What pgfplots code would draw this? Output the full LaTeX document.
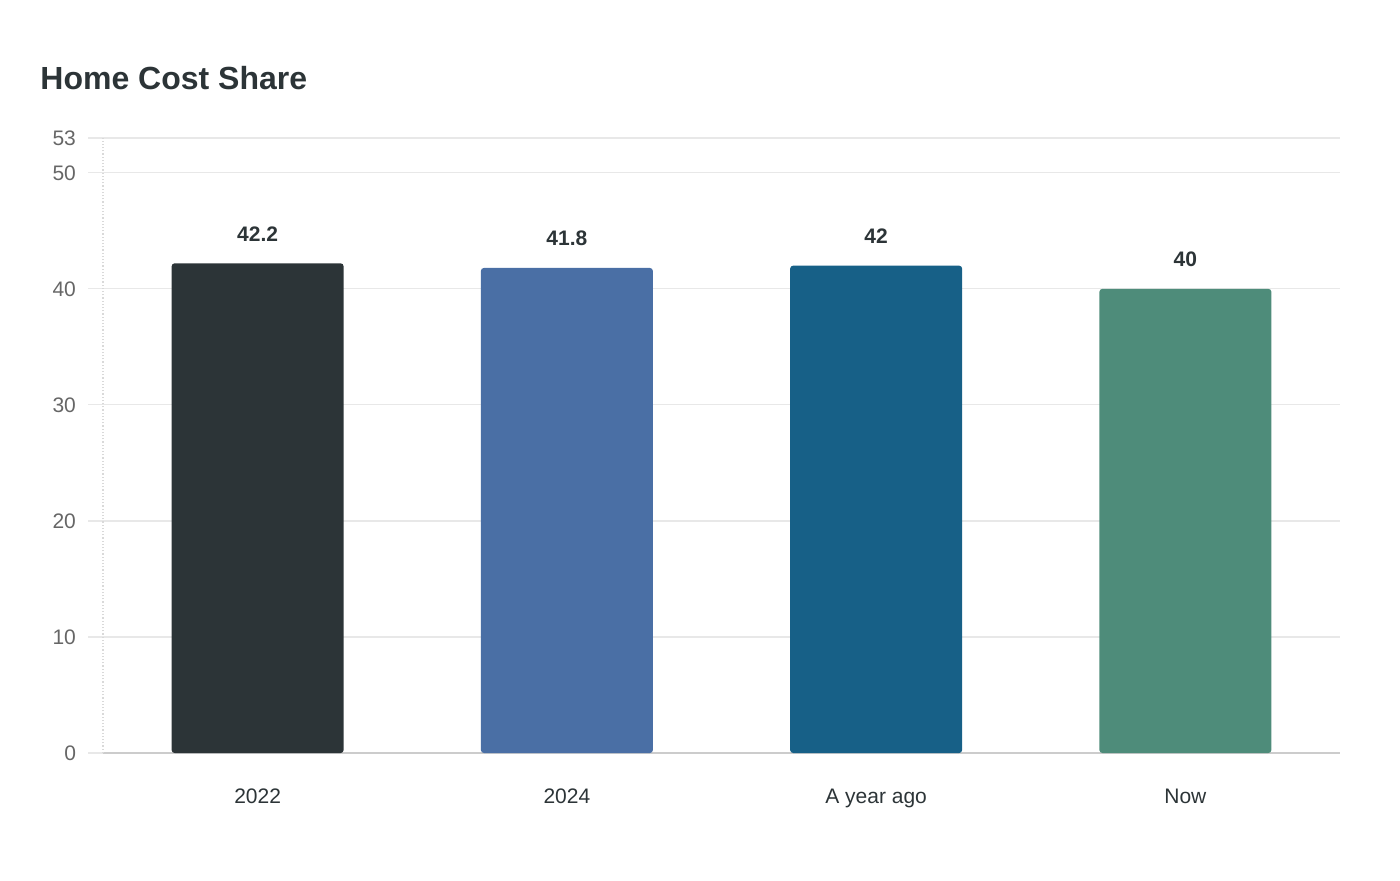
\documentclass[border=0pt]{standalone}
\usepackage{pgfplots}
\pgfplotsset{compat=1.18}
\usepackage{fontspec}
\setmainfont{Liberation Sans}
\definecolor{c1}{HTML}{2C3437}
\definecolor{c2}{HTML}{4A6FA5}
\definecolor{c3}{HTML}{176087}
\definecolor{c4}{HTML}{4E8C7A}
\definecolor{gridc}{HTML}{E8E8E8}
\definecolor{tickc}{HTML}{666666}
\definecolor{txt}{HTML}{2C3437}
\begin{document}
\begin{tikzpicture}
\path[use as bounding box] (0,0) rectangle (700pt,440pt);
\node[anchor=base west, font=\bfseries\fontsize{16}{18}\selectfont, text=txt, inner sep=0pt] at (20pt,395pt) {Home Cost Share};
\begin{axis}[
  at={(51.5pt,63.5pt)}, anchor=south west,
  scale only axis, width=618.5pt, height=307.5pt,
  ybar, bar width=86pt,
  xmin=-0.5, xmax=3.5, ymin=0, ymax=53,
  xtick={0,1,2,3}, xticklabels={2022,2024,A year ago,Now},
  ytick={0,10,20,30,40,50,53},
  ymajorgrids, grid style={gridc, line width=0.6pt},
  axis x line*=bottom, axis y line*=left,
  x axis line style={draw=black!20, line width=0.8pt, -},
  y axis line style={draw=black!15, densely dotted, line width=0.6pt, -},
  xtick style={draw=none},
  ytick style={draw=gridc, line width=0.6pt},
  tick align=outside, major tick length=7.5pt,
  yticklabel style={text=tickc, font=\fontsize{10.5}{12}\selectfont, xshift=-2.5pt},
  xticklabel style={text=txt, font=\fontsize{10.5}{12}\selectfont, yshift=-7pt},
  /pgf/number format/assume math mode=true,
  nodes near coords,
  nodes near coords style={font=\bfseries\fontsize{10.5}{12}\selectfont, text=txt, anchor=south, yshift=7.5pt},
  every axis plot/.append style={bar shift=0pt, draw=none, rounded corners=1.5pt},
]
\addplot[fill=c1] coordinates {(0,42.2)};
\addplot[fill=c2] coordinates {(1,41.8)};
\addplot[fill=c3] coordinates {(2,42)};
\addplot[fill=c4] coordinates {(3,40)};
\end{axis}
\end{tikzpicture}
\end{document}
